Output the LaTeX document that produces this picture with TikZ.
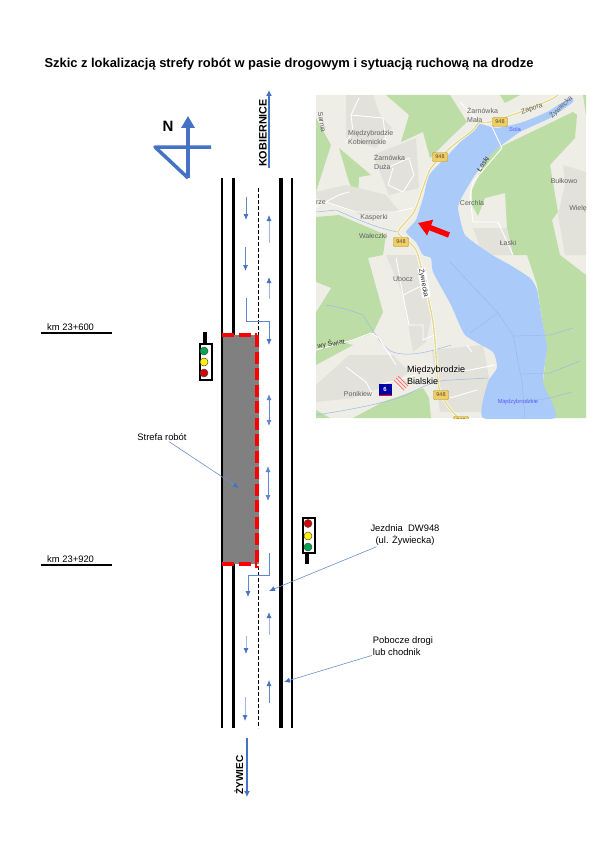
\documentclass[tikz,border=0pt]{standalone}
\usepackage{fontspec}
\setmainfont{Liberation Sans}
\usetikzlibrary{arrows.meta}
\definecolor{officeBlue}{HTML}{4472C4}
\definecolor{mapLand}{HTML}{EEEEE7}
\definecolor{mapGreen}{HTML}{BDDDA6}
\definecolor{mapWater}{HTML}{AACAFA}
\definecolor{mapBuilt}{HTML}{E2E1DA}
\definecolor{mapRoad}{HTML}{E6D88C}
\definecolor{mapBadge}{HTML}{F2CE60}
\definecolor{lightGreen}{HTML}{00A650}

\begin{document}
\begin{tikzpicture}[
  x=1pt,y=-1pt,
  >=Latex,
  roadEdge/.style={line width=2pt,black},
  roadKerb/.style={line width=3.5pt,black},
  laneArrow/.style={line width=0.8pt,officeBlue!85,-{Latex[length=6pt,width=5pt,color=officeBlue]}},
  laneFaint/.style={line width=0.8pt,officeBlue!50,-{Latex[length=6pt,width=5pt,color=officeBlue]}},
  laneBoth/.style={line width=0.8pt,officeBlue!85,{Latex[length=6pt,width=5pt]}-{Latex[length=6pt,width=5pt]}},
  pointer/.style={line width=0.6pt,officeBlue!80,-{Latex[length=6pt,width=5pt,color=officeBlue]}},
  dirArrow/.style={line width=2pt,officeBlue,-{Latex[length=6pt,width=6pt]}},
  workEdge/.style={line width=4pt,red,dash pattern=on 12pt off 4.5pt},
  kmLine/.style={line width=1.6pt,black},
  note/.style={font=\fontsize{9.4}{12.5}\selectfont,inner sep=1pt,align=left},
  dirText/.style={font=\fontsize{10}{12}\selectfont\bfseries,rotate=90,inner sep=0pt},
  signalBox/.style={draw=black,line width=1.5pt,fill=white},
  signalLamp/.style={draw=black!70,line width=0.5pt},
  mapText/.style={font=\fontsize{7}{8.5}\selectfont,text=black!62,inner sep=0pt,align=left},
  mapBlue/.style={font=\fontsize{5.8}{7}\selectfont,text=blue!65,inner sep=0pt},
  mapStreet/.style={white,line width=0.9pt,line join=round},
  mapStream/.style={mapWater!92!black,line width=0.5pt},
  badge/.style={fill=mapBadge,draw=mapBadge!70!black,line width=0.4pt,rounded corners=1pt,
    font=\fontsize{5.5}{6}\selectfont,text=black!70,minimum width=15pt,minimum height=9pt,inner sep=0pt}
]
  \useasboundingbox (0,0) rectangle (601,856);
  \fill[white] (0,0) rectangle (601,856);

  \node[font=\fontsize{12.9}{15}\selectfont\bfseries,inner sep=0pt] (title) at (289,64)
    {Szkic z lokalizacją strefy robót w pasie drogowym i sytuacją ruchową na drodze};

  % Map in the upper right corner.
  \begin{scope}
    \clip (316,95) rectangle (586,418);
    \fill[mapLand] (316,95) rectangle (586,418);
    % woods
    \fill[mapGreen] (386,95) -- (450,95) -- (467,122) -- (450,138) -- (430,158) -- (423,132) -- (401,142) -- (409,115) -- cycle;
    \fill[mapGreen] (316,118) -- (331,145) -- (316,192) -- cycle;
    \fill[mapGreen] (339,148) -- (371,175) -- (359,177) -- (358,202) -- (349,182) -- cycle;
    \fill[mapGreen] (316,217) -- (339,215) -- (386,235) -- (383,255) -- (368,258) -- (383,312) -- (373,333)
      -- (346,343) -- (353,345) -- (316,365) -- cycle;
    \fill[mapLand] (316,282) -- (331,288) -- (316,312) -- cycle;
    \fill[mapGreen] (490,152) -- (573,112) -- (577,115) -- (575,138) -- (550,165) -- (558,212) -- (552,220)
      -- (560,255) -- (586,275) -- (586,418) -- (553,418) -- (543,382) -- (547,348) -- (543,325) -- (537,285)
      -- (527,255) -- (513,255) -- (507,228) -- (505,193) -- (485,198) -- (478,216) -- (472,205) -- (472,190) -- cycle;
    \fill[mapGreen] (500,95) -- (520,95) -- (505,103) -- cycle;
    \fill[mapGreen] (583,95) -- (586,95) -- (586,115) -- cycle;
    \fill[mapGreen] (353,418) -- (383,402) -- (423,388) -- (429,398) -- (431,418) -- cycle;
    % built-up patches
    \fill[mapBuilt] (346,95) -- (373,95) -- (380,115) -- (392,128) -- (376,148) -- (346,138) -- cycle;
    \fill[mapBuilt] (373,155) -- (416,138) -- (419,188) -- (389,195) -- cycle;
    \fill[mapBuilt] (316,192) -- (346,185) -- (386,195) -- (400,212) -- (361,215) -- (316,198) -- cycle;
    \fill[mapBuilt] (386,255) -- (416,255) -- (431,318) -- (426,342) -- (413,352) -- (403,295) -- cycle;
    \fill[mapBuilt] (316,385) -- (349,355) -- (393,355) -- (409,372) -- (393,383) -- (353,398) -- (316,402) -- cycle;
    \fill[mapBuilt] (432,350) -- (483,345) -- (490,382) -- (483,412) -- (440,412) -- cycle;
    \fill[mapBuilt] (563,165) -- (586,172) -- (586,255) -- (565,255) -- (558,215) -- (565,185) -- cycle;
    \fill[mapBuilt] (473,228) -- (507,228) -- (513,255) -- (483,255) -- cycle;
    \fill[mapGreen] (316,410) -- (330,418) -- (316,418) -- cycle;
    % lake
    \fill[mapWater] plot[smooth,tension=0.3] coordinates {
      (478,123) (451,152) (429,175) (424,195) (416,220) (406,232) (416,242) (423,255) (431,258)
      (433,272) (451,305) (465,335) (493,352) (497,368) (488,382) (483,418) (555,418) (543,382)
      (547,348) (543,325) (537,290) (530,278) (510,265) (492,255) (465,235) (458,208) (463,195)
      (475,175) (493,152) (520,132) (550,118) (573,102) (570,98) (547,112) (523,122) (497,128) (478,123) };
    % streams
    \draw[mapStream] (326,305) .. controls (345,308) and (355,312) .. (363,315)
      .. controls (375,335) and (385,350) .. (393,352) .. controls (410,358) and (435,350) .. (451,345);
    \draw[mapStream] (316,415) .. controls (350,410) and (390,402) .. (406,395)
      .. controls (420,388) and (435,380) .. (451,380) -- (488,378);
    \draw[mapStream] (316,212) -- (336,210) .. controls (350,216) and (375,228) .. (398,232);
    \draw[mapStream] (450,262) -- (498,313) -- (513,335) -- (522,382) -- (525,418);
    \draw[mapStream] (470,333) -- (498,313);
    \draw[mapStream] (513,336) -- (550,335) -- (573,328);
    \draw[mapStream] (522,374) -- (550,373) -- (580,361);
    \draw[mapStream] (523,402) -- (550,398) -- (572,392);
    % streets
    \draw[mapStreet] (359,98) -- (351,115) -- (353,132) -- (346,142);
    \draw[mapStreet] (351,115) -- (383,118) -- (386,142);
    \draw[mapStreet] (389,167) -- (409,158) -- (414,175) -- (403,192) -- (388,185) -- (393,168);
    \draw[mapStreet] (316,207) -- (339,195) -- (349,192);
    \draw[mapStreet] (326,202) -- (356,212) -- (396,212) -- (413,208);
    \draw[mapStreet] (396,258) -- (403,295) -- (409,325) -- (423,325) -- (423,340) -- (434,335);
    \draw[mapStreet] (403,295) -- (423,285);
    \draw[mapStreet] (316,350) -- (353,340) -- (371,333) -- (379,338) -- (396,365);
    \draw[mapStreet] (346,367) -- (366,382) -- (373,395);
    \draw[mapStreet] (379,385) -- (416,375);
    \draw[mapStreet] (432,372) -- (470,370) -- (495,365);
    \draw[mapStreet] (450,398) -- (477,390);
    \draw[mapStreet] (467,345) -- (472,352);
    \draw[mapStreet] (492,127) -- (502,148) -- (473,182) -- (470,195) -- (473,222) -- (498,222) -- (513,255);
    \draw[mapStreet] (460,102) -- (480,122);
    % main road and badges
    \draw[white,line width=2.6pt] plot[smooth,tension=0.4] coordinates {
      (558,95) (550,100) (518,113) (490,122) (478,123) (473,130) (450,148) (431,168) (423,188) (414,212)
      (398,232) (409,242) (418,255) (433,322) (439,388) (451,410) (459,418) };
    \draw[mapRoad,line width=1.4pt] plot[smooth,tension=0.4] coordinates {
      (558,95) (550,100) (518,113) (490,122) (478,123) (473,130) (450,148) (431,168) (423,188) (414,212)
      (398,232) (409,242) (418,255) (433,322) (439,388) (451,410) (459,418) };
    \node[badge] (badgeA) at (500,122) {948};
    \node[badge] (badgeB) at (440,157) {948};
    \node[badge] (badgeC) at (401,242) {948};
    \node[badge] (badgeD) at (441,395) {948};
    \node[badge] (badgeE) at (461,421) {948};
    % motorway exit mark
    \node[fill=blue!65!black,text=white,font=\fontsize{6}{7}\selectfont\bfseries,inner sep=0pt,
      minimum width=13pt,minimum height=11pt] (exitSix) at (385,389.5) {6};
    \draw[red,line width=0.8pt] (379,395) -- (392,395);
    \draw[red!55,line width=0.9pt] (394,380) -- (404,390) (396,378) -- (406,388) (398,376) -- (408,386);
    % place names
    \node[mapText,rotate=-80] (nameA) at (322,122) {Sarnia};
    \node[mapText,anchor=west] (nameB) at (348,137.5) {Międzybrodzie\\Kobiernickie};
    \node[mapText,anchor=west] (nameC) at (374,162) {Żarnówka\\Duża};
    \node[mapText,anchor=west] (nameD) at (467,115) {Żarnówka\\Mała};
    \node[mapText,rotate=20] (nameE) at (532,109) {Zapora};
    \node[mapText,rotate=45] (nameF) at (561,107) {Żywiecka};
    \node[mapBlue] (nameG) at (515,129) {Sola};
    \node[mapText,rotate=55,text=black!80] (nameH) at (483,164) {Łaski};
    \node[mapText] (nameI) at (564,181) {Bułkowo};
    \node[mapText] (nameJ) at (578,209) {Wielę};
    \node[mapText] (nameK) at (321,203) {rze};
    \node[mapText] (nameL) at (472,203) {Cerchla};
    \node[mapText] (nameM) at (374,218) {Kasperki};
    \node[mapText] (nameN) at (373,236) {Wałeczki};
    \node[mapText] (nameO) at (508,243) {Łaski};
    \node[mapText] (nameP) at (403,279) {Ubocz};
    \node[mapText,rotate=-80,text=black!80,fill=white,inner sep=0.5pt] (nameQ) at (424,283) {Żywiecka};
    \node[mapText,rotate=10,text=black!80] (nameR) at (331,344) {wy Świat};
    \node[mapText] (nameS) at (358,394) {Ponikiew};
    \node[mapBlue] (nameT) at (518,402) {Międzybrodzkie};
    \node[mapText,anchor=west,text=black,font=\fontsize{9}{12}\selectfont] (nameU) at (407,375) {Międzybrodzie\\Bialskie};
    % location arrow
    \draw[red,line width=5.5pt,-{Triangle[length=13pt,width=16pt]}] (449,235) -- (418,223);
  \end{scope}

  % North sign.
  \draw[officeBlue,line width=3.5pt,line join=round] (211,147) -- (155,147) -- (188,178);
  \draw[officeBlue,line width=3.5pt,-{Triangle[length=12pt,width=13pt]}] (188,178) -- (188,116);
  \node[font=\fontsize{15}{16}\selectfont\bfseries,inner sep=0pt] (north) at (168,126) {N};

  % Carriageway: edge lines, kerbs and centre line.
  \draw[roadEdge] (222,178) -- (222,728);
  \draw[roadKerb] (233.5,178) -- (233.5,728);
  \draw[roadKerb] (281,178) -- (281,728);
  \draw[roadEdge] (292,178) -- (292,728);
  \draw[black,line width=0.8pt,dash pattern=on 4pt off 2pt] (258,188) -- (258,728);

  % Work zone.
  \fill[black!50] (223,335) rectangle (259,564);
  \draw[workEdge] (222,335) -- (257,335);
  \draw[workEdge] (257,335) -- (257,568);
  \draw[workEdge] (222,564) -- (257,564);

  % Directions of the traffic.
  \draw[dirArrow] (269,168) -- (269,90);
  \node[dirText,font=\fontsize{10.8}{12}\selectfont\bfseries] (northEnd) at (263,133) {KOBIERNICE};
  \draw[dirArrow] (247,738) -- (247,797);
  \node[dirText] (southEnd) at (239,775) {ŻYWIEC};

  % Lane arrows.
  \draw[laneArrow] (246,197) -- (246,220);
  \draw[laneArrow] (245.5,247) -- (245.5,271);
  \draw[laneArrow] (246,298) -- (246,321) -- (269,321) -- (269,345);
  \draw[laneFaint] (269,243) -- (269,215);
  \draw[laneFaint] (269,299) -- (269,277);
  \draw[laneBoth] (269,394) -- (269,426);
  \draw[laneBoth] (268,466) -- (268,501);
  \draw[laneArrow] (269,553) -- (269,575) -- (248,575) -- (248,597);
  \draw[laneFaint] (269,635) -- (269,612);
  \draw[laneArrow] (269,703) -- (269,680);
  \draw[laneFaint] (246,636) -- (246,654);
  \draw[laneFaint] (245,697) -- (245,721);

  % Chainage marks.
  \draw[kmLine] (41,333) -- (112,333);
  \node[note,anchor=west] (kmStart) at (46,327.5) {km 23+600};
  \draw[kmLine] (41,565) -- (112,565);
  \node[note,anchor=west] (kmEnd) at (46,559.5) {km 23+920};

  % Signal at the north end.
  \draw[black,line width=3.5pt] (205,332) -- (205,344);
  \draw[signalBox] (200,344) rectangle (212,380);
  \fill[lightGreen,signalLamp] (204,351) circle (4);
  \fill[yellow,signalLamp] (204,362) circle (4);
  \fill[red!85!black,signalLamp] (204,373) circle (4);

  % Signal at the south end.
  \draw[black,line width=3.5pt] (307,553) -- (307,564);
  \draw[signalBox] (303,518) rectangle (315,553);
  \fill[red!85!black,signalLamp] (308,523.5) circle (4);
  \fill[yellow,signalLamp] (308,536) circle (4);
  \fill[lightGreen,signalLamp] (308,547) circle (4);

  % Notes with their pointers.
  \node[note] (zoneNote) at (162,437) {Strefa robót};
  \coordinate (zoneTip) at (239,488);
  \draw[pointer] (zoneNote) -- (zoneTip);

  \node[note,align=center] (laneNote) at (405,535) {Jezdnia\ \ DW948\\(ul. Żywiecka)};
  \coordinate (laneTip) at (269,591);
  \draw[pointer] (laneNote) -- (laneTip);

  \node[note] (kerbNote) at (403,646) {Pobocze drogi\\lub chodnik};
  \coordinate (kerbTip) at (284,682);
  \draw[pointer] (kerbNote) -- (kerbTip);
\end{tikzpicture}
\end{document}
